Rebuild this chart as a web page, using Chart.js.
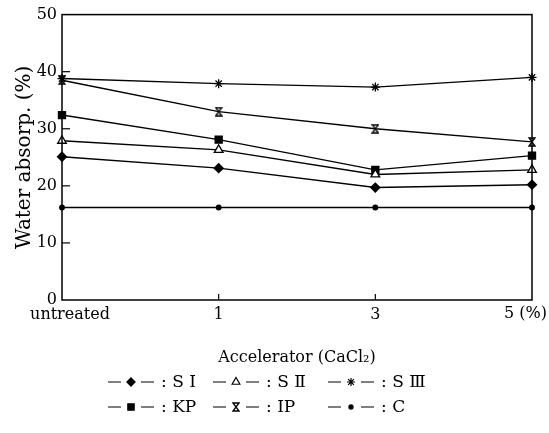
<!DOCTYPE html>
<html>
<head>
<meta charset="utf-8">
<script src="https://cdn.jsdelivr.net/npm/chart.js@4.4.1/dist/chart.umd.min.js"></script>
<style>
  html, body { margin: 0; padding: 0; background: #fff; }
  #wrap { width: 549px; height: 433px; position: relative; }
</style>
</head>
<body>
<div id="wrap"><canvas id="c" width="549" height="433"></canvas></div>
<script>
// ---- data ----
const categories = ['untreated', '1', '3', '5 (%)'];
const seriesNames = ['S \u2160', 'S \u2161', 'S \u2162', 'KP', 'IP', 'C'];
const sI   = [25.1, 23.1, 19.7, 20.2];
const sII  = [27.9, 26.3, 22.0, 22.8];
const sIII = [38.8, 37.9, 37.3, 39.0];
const kp   = [32.4, 28.1, 22.8, 25.3];
const ip   = [38.5, 33.0, 30.0, 27.7];
const cc   = [16.2, 16.2, 16.2, 16.2];
const yMin = 0, yMax = 50, yStep = 10;

const SERIF = '"DejaVu Serif", "Liberation Serif", "Noto Sans CJK JP", serif';

// hourglass marker
function makeHourglass(w, h) {
  const cv = document.createElement('canvas');
  cv.width = w; cv.height = h;
  const g = cv.getContext('2d');
  g.strokeStyle = '#000'; g.lineWidth = 1.3;
  g.beginPath();
  g.moveTo(1, 1); g.lineTo(w - 1, 1); g.lineTo(1, h - 1); g.lineTo(w - 1, h - 1); g.closePath();
  g.stroke();
  return cv;
}
const hourglass = makeHourglass(8, 10);

const styles = [
  { pointStyle: 'rectRot', radius: 4.5, fill: '#000' },
  { pointStyle: 'triangle', radius: 5, fill: '#fff' },
  { pointStyle: 'star', radius: 4.5, fill: '#000' },
  { pointStyle: 'rect', radius: 5, fill: '#000' },
  { pointStyle: hourglass, radius: 5, fill: '#000' },
  { pointStyle: 'circle', radius: 2.3, fill: '#000' }
];
const seriesData = [sI, sII, sIII, kp, ip, cc];

const datasets = seriesData.map((d, i) => ({
  label: seriesNames[i],
  data: d,
  borderColor: '#000',
  borderWidth: 1.4,
  backgroundColor: styles[i].fill,
  pointStyle: styles[i].pointStyle,
  pointRadius: styles[i].radius,
  pointHoverRadius: styles[i].radius,
  pointBorderColor: '#000',
  pointBackgroundColor: styles[i].fill,
  pointBorderWidth: 1.3,
  tension: 0,
  fill: false,
  clip: false
}));

const decor = {
  id: 'decor',
  afterDatasetsDraw(chart) {
    const ctx = chart.ctx;
    const a = chart.chartArea;
    const xs = chart.scales.x, ys = chart.scales.y;
    ctx.save();
    // frame
    ctx.strokeStyle = '#000';
    ctx.lineWidth = 1.5;
    ctx.strokeRect(a.left, a.top, a.right - a.left, a.bottom - a.top);
    // inward ticks
    ctx.lineWidth = 1.2;
    ys.ticks.forEach(t => {
      if (t.value <= yMin || t.value >= yMax) return;
      const y = ys.getPixelForValue(t.value);
      ctx.beginPath(); ctx.moveTo(a.left, y); ctx.lineTo(a.left + 8, y); ctx.stroke();
    });
    for (let i = 1; i < categories.length - 1; i++) {
      const x = xs.getPixelForTick(i);
      ctx.beginPath(); ctx.moveTo(x, a.bottom); ctx.lineTo(x, a.bottom - 6); ctx.stroke();
    }
    // x tick labels
    ctx.fillStyle = '#000';
    ctx.font = '16px ' + SERIF;
    ctx.textBaseline = 'middle';
    categories.forEach((lab, i) => {
      const x = xs.getPixelForTick(i);
      if (i === 0) { ctx.textAlign = 'center'; ctx.fillText(lab, x + 8, a.bottom + 15); }
      else if (i === categories.length - 1) { ctx.textAlign = 'right'; ctx.fillText(lab, x + 15, a.bottom + 14); }
      else { ctx.textAlign = 'center'; ctx.fillText(lab, x, a.bottom + 15); }
    });
    // legend
    const rows = [[0, 1, 2], [3, 4, 5]];
    const colX = [108, 213, 328];
    const rowY = [382, 407];
    ctx.font = '17px ' + SERIF;
    ctx.textAlign = 'left';
    rows.forEach((r, ri) => {
      r.forEach((si, ci) => {
        const x0 = colX[ci], y = rowY[ri];
        ctx.strokeStyle = '#000';
        ctx.lineWidth = 1;
        ctx.beginPath(); ctx.moveTo(x0, y); ctx.lineTo(x0 + 13, y); ctx.stroke();
        ctx.beginPath(); ctx.moveTo(x0 + 33, y); ctx.lineTo(x0 + 46, y); ctx.stroke();
        const st = styles[si];
        ctx.fillStyle = st.fill;
        ctx.lineWidth = 1.2;
        Chart.helpers.drawPoint(ctx, { pointStyle: st.pointStyle, radius: st.radius * 0.9, rotation: 0, borderWidth: 1.2 }, x0 + 23, y);
        ctx.fillStyle = '#000';
        ctx.fillText(': ' + seriesNames[si], x0 + 53, y + 1);
      });
    });
    ctx.restore();
  }
};

new Chart(document.getElementById('c'), {
  type: 'line',
  data: { labels: categories, datasets },
  options: {
    responsive: false,
    animation: false,
    events: [],
    layout: { padding: { left: 0, right: 17, top: 13, bottom: 60 } },
    plugins: { legend: { display: false }, tooltip: { enabled: false } },
    scales: {
      x: {
        type: 'category',
        offset: false,
        grid: { display: false, drawTicks: false },
        border: { display: false },
        ticks: { display: false },
        title: {
          display: true,
          text: 'Accelerator (CaCl\u2082)',
          color: '#000',
          font: { family: SERIF, size: 16 },
          padding: { top: 0, bottom: 6 }
        },
        afterFit(s) { s.height = 73; }
      },
      y: {
        min: yMin, max: yMax,
        grid: { display: false, drawTicks: false },
        border: { display: false },
        ticks: {
          stepSize: yStep,
          color: '#000',
          padding: 5,
          font: { family: SERIF, size: 16 }
        },
        title: {
          display: true,
          text: 'Water absorp. (%)',
          color: '#000',
          font: { family: SERIF, size: 20 },
          padding: { top: 13, bottom: 0 }
        },
        afterFit(s) { s.width = 62; }
      }
    }
  },
  plugins: [decor]
});
</script>
</body>
</html>
